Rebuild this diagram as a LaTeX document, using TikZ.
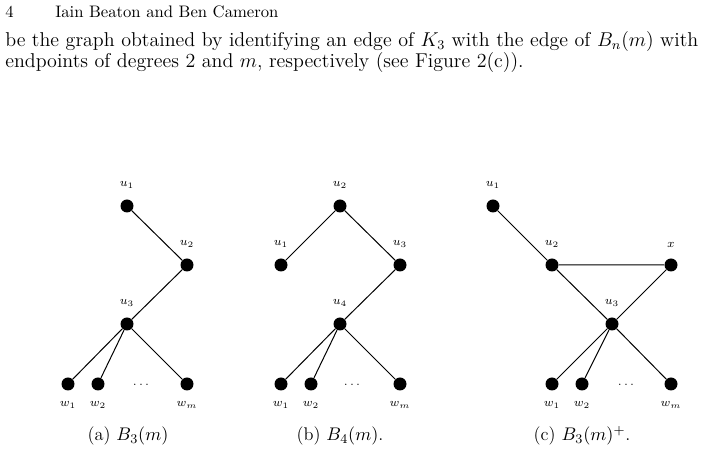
\documentclass[tikz,border=0pt]{standalone}
\begin{document}
  \begin{tikzpicture}
    [x=0.6pt,y=-0.6pt,
     vertex/.style={circle,fill,inner sep=0pt,minimum size=7.8pt},
     lbl/.style={font=\fontsize{7}{8}\selectfont,inner sep=0pt},
     every label/.style={lbl},
     label distance=6.2pt,
     edge/.style={line width=0.6pt},
     body/.style={font=\fontsize{12}{14.5}\selectfont,inner sep=0pt,anchor=base west},
     capt/.style={font=\fontsize{11}{13}\selectfont,inner sep=0pt,anchor=base}]
    \useasboundingbox (0,0) rectangle (704,455);
    \node[body,font=\fontsize{10}{12}\selectfont] (pagenum) at (5,18) {4};
    \node[body,font=\fontsize{10}{12}\selectfont] (runhead) at (55,18) {Iain Beaton and Ben Cameron};
    \node[body] (lineA) at (5,47)
      {\makebox[415.8pt][s]{be the graph obtained by identifying an edge of $K_3$ with the edge of $B_n(m)$ with}};
    \node[body] (lineB) at (5,68)
      {endpoints of degrees 2 and $m$, respectively (see Figure 2(c)).};
    \node[vertex,label=above:$u_1$] (a1) at (127,206) {};
    \node[vertex,label=above:$u_2$] (a2) at (187,265) {};
    \node[vertex,label=above:$u_3$] (a3) at (127,324) {};
    \node[vertex,label=below:$w_1$] (aw1) at (68,384) {};
    \node[vertex,label=below:$w_2$] (aw2) at (98,384) {};
    \node[vertex,label=below:$w_m$] (awm) at (187,384) {};
    \node[lbl,anchor=base] (adots) at (141,386) {$\dots$};
    \draw[edge] (a1) -- (a2) -- (a3);
    \draw[edge] (a3) -- (aw1);
    \draw[edge] (a3) -- (aw2);
    \draw[edge] (a3) -- (awm);
    \node[capt] (acap) at (128,441) {(a) $B_3(m)$};
    \node[vertex,label=above:$u_1$] (b1) at (281,265) {};
    \node[vertex,label=above:$u_2$] (b2) at (340,206) {};
    \node[vertex,label=above:$u_3$] (b3) at (400,265) {};
    \node[vertex,label=above:$u_4$] (b4) at (340,324) {};
    \node[vertex,label=below:$w_1$] (bw1) at (281,384) {};
    \node[vertex,label=below:$w_2$] (bw2) at (311,384) {};
    \node[vertex,label=below:$w_m$] (bwm) at (400,384) {};
    \node[lbl,anchor=base] (bdots) at (352,386) {$\dots$};
    \draw[edge] (b1) -- (b2) -- (b3) -- (b4);
    \draw[edge] (b4) -- (bw1);
    \draw[edge] (b4) -- (bw2);
    \draw[edge] (b4) -- (bwm);
    \node[capt] (bcap) at (340,441) {(b) $B_4(m)$.};
    \node[vertex,label=above:$u_1$] (c1) at (493,206) {};
    \node[vertex,label=above:$u_2$] (c2) at (552,265) {};
    \node[vertex,label=above:$x$] (cx) at (671,265) {};
    \node[vertex,label=above:$u_3$] (c3) at (612,324) {};
    \node[vertex,label=below:$w_1$] (cw1) at (552,384) {};
    \node[vertex,label=below:$w_2$] (cw2) at (582,384) {};
    \node[vertex,label=below:$w_m$] (cwm) at (671,384) {};
    \node[lbl,anchor=base] (cdots) at (626,386) {$\dots$};
    \draw[edge] (c1) -- (c2) -- (c3) -- (cx) -- (c2);
    \draw[edge] (c3) -- (cw1);
    \draw[edge] (c3) -- (cw2);
    \draw[edge] (c3) -- (cwm);
    \node[capt] (ccap) at (582,441) {(c) $B_3(m)^+$.};
  \end{tikzpicture}
\end{document}
